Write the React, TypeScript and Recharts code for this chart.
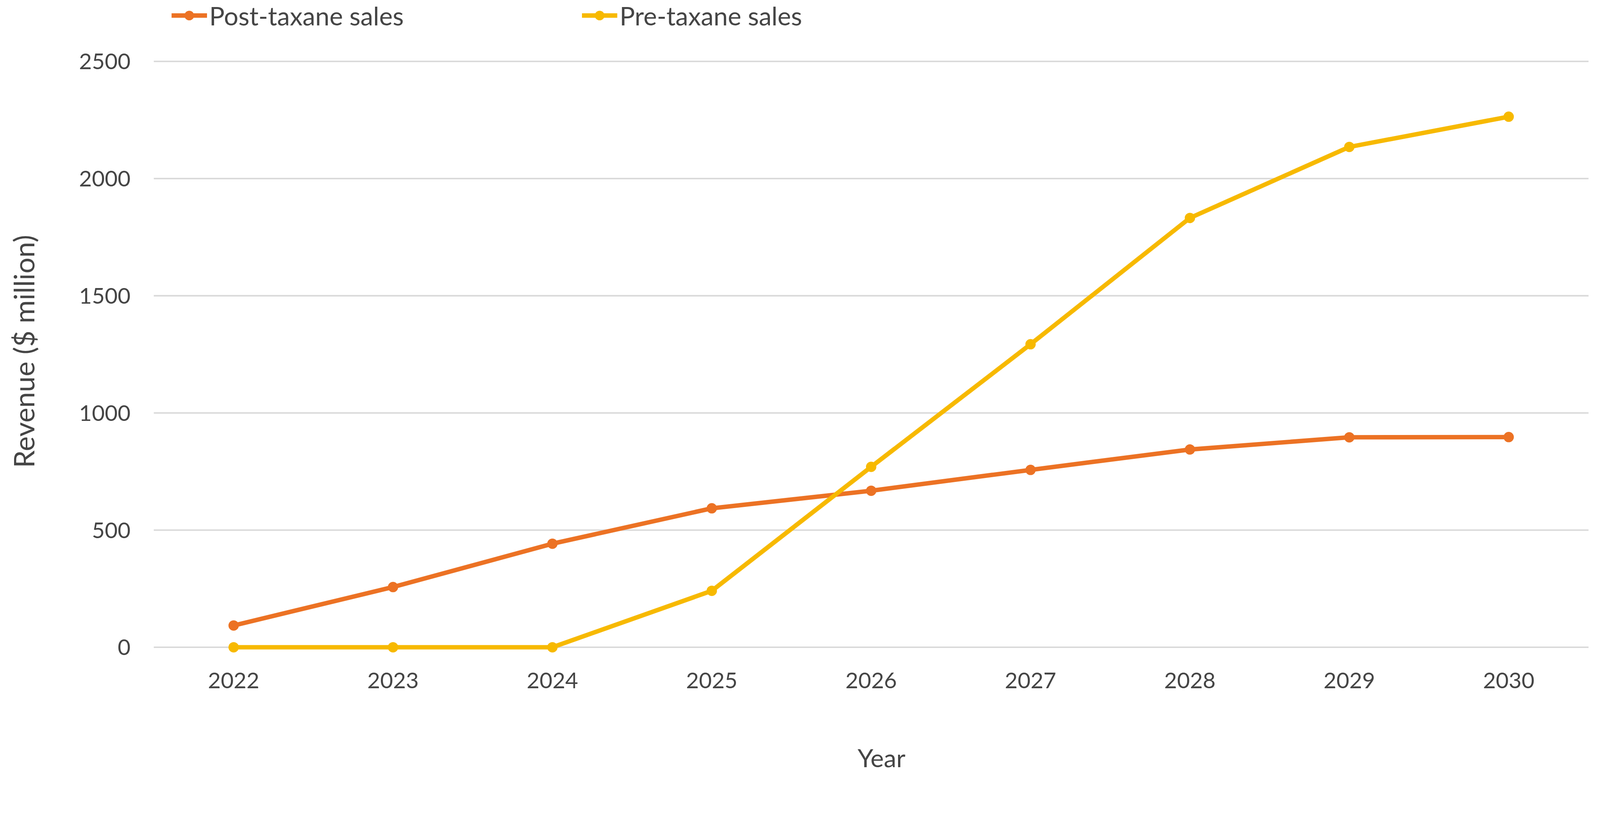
import React from "react";
import {
  LineChart, Line, XAxis, YAxis, CartesianGrid, Legend, Label,
} from "recharts";

// ─── Data ─────────────────────────────────────────────────────────────────────
const YEARS = ["2022", "2023", "2024", "2025", "2026", "2027", "2028", "2029", "2030"];
const POST_TAXANE = [93, 257, 442, 593, 668, 757, 844, 896, 897];
const PRE_TAXANE = [0, 0, 0, 241, 770, 1293, 1832, 2135, 2264];
const Y_TICKS = [0, 500, 1000, 1500, 2000, 2500];

const data = YEARS.map((year, i) => ({
  year,
  post: POST_TAXANE[i],
  pre: PRE_TAXANE[i],
}));

const ORANGE = "#EC7224";
const YELLOW = "#F7B900";
const TEXT = "#454545";
const FONT = "Lato, 'Open Sans', sans-serif";

const W = 4328;
const H = 2093;

const SeriesLegend = ({ payload }: any) => (
  <div style={{ display: "flex", alignItems: "center", height: 84, paddingLeft: 464, fontFamily: FONT }}>
    {(payload || []).map((entry: any, i: number) => (
      <div
        key={entry.value}
        style={{ display: "flex", alignItems: "center", width: i === 0 ? 1110 : "auto" }}
      >
        <svg width={96} height={32}>
          <line x1={0} y1={16} x2={96} y2={16} stroke={entry.color} strokeWidth={12} />
          <circle cx={48} cy={16} r={13} fill={entry.color} />
        </svg>
        <span style={{ marginLeft: 6, fontSize: 69, color: TEXT, lineHeight: 1 }}>{entry.value}</span>
      </div>
    ))}
  </div>
);

const YTitle = ({ viewBox }: any) => {
  const cx = viewBox.x + 63;
  const cy = viewBox.y + viewBox.height / 2 - 8;
  return (
    <text
      x={cx} y={cy}
      transform={`rotate(-90 ${cx} ${cy})`}
      textAnchor="middle" dominantBaseline="central"
      fill={TEXT} fontSize={76} fontFamily={FONT}
    >
      Revenue ($ million)
    </text>
  );
};

const XTitle = ({ viewBox }: any) => (
  <text
    x={viewBox.x + viewBox.width / 2 + 28}
    y={viewBox.y + 298}
    textAnchor="middle" dominantBaseline="central"
    fill={TEXT} fontSize={68} fontFamily={FONT}
  >
    Year
  </text>
);

export default function App() {
  // fit the fixed-size chart into whatever viewport we actually get
  const vw = typeof window !== "undefined" ? document.documentElement.clientWidth || window.innerWidth : W;
  const vh = typeof window !== "undefined" ? document.documentElement.clientHeight || window.innerHeight : H;
  const scale = Math.min(vw / W, vh / H, 1);

  return (
    <div style={{ position: "fixed", left: 0, top: 0, width: "100vw", height: "100vh", overflow: "hidden", background: "#fff" }}>
      <div
        style={{
          width: W, height: H, fontFamily: FONT,
          transform: `scale(${scale})`, transformOrigin: "0 0",
        }}
      >
        <LineChart
          width={W}
          height={H}
          data={data}
          margin={{ top: 166, right: 31, left: 0, bottom: 0 }}
        >
          <CartesianGrid vertical={false} stroke="#D9D9D9" strokeWidth={4} />
          <XAxis
            dataKey="year"
            height={343}
            axisLine={false}
            tickLine={false}
            tickSize={0}
            tickMargin={68}
            padding={{ left: 216, right: 216 }}
            tick={{ fill: TEXT, fontSize: 60, fontFamily: FONT }}
            label={<Label content={XTitle} />}
          />
          <YAxis
            width={416}
            domain={[0, 2500]}
            ticks={Y_TICKS}
            axisLine={false}
            tickLine={false}
            tickSize={0}
            tickMargin={63}
            tick={{ fill: TEXT, fontSize: 60, fontFamily: FONT }}
            label={<Label content={YTitle} />}
          />
          <Legend
            verticalAlign="middle"
            align="center"
            wrapperStyle={{ top: 0, left: 0, width: W }}
            content={<SeriesLegend />}
          />
          <Line
            type="linear"
            dataKey="post"
            name="Post-taxane sales"
            stroke={ORANGE}
            strokeWidth={12}
            strokeLinejoin="round"
            dot={{ r: 14, fill: ORANGE, stroke: ORANGE, strokeWidth: 0 }}
            activeDot={false}
            isAnimationActive={false}
          />
          <Line
            type="linear"
            dataKey="pre"
            name="Pre-taxane sales"
            stroke={YELLOW}
            strokeWidth={12}
            strokeLinejoin="round"
            dot={{ r: 14, fill: YELLOW, stroke: YELLOW, strokeWidth: 0 }}
            activeDot={false}
            isAnimationActive={false}
          />
        </LineChart>
      </div>
    </div>
  );
}
